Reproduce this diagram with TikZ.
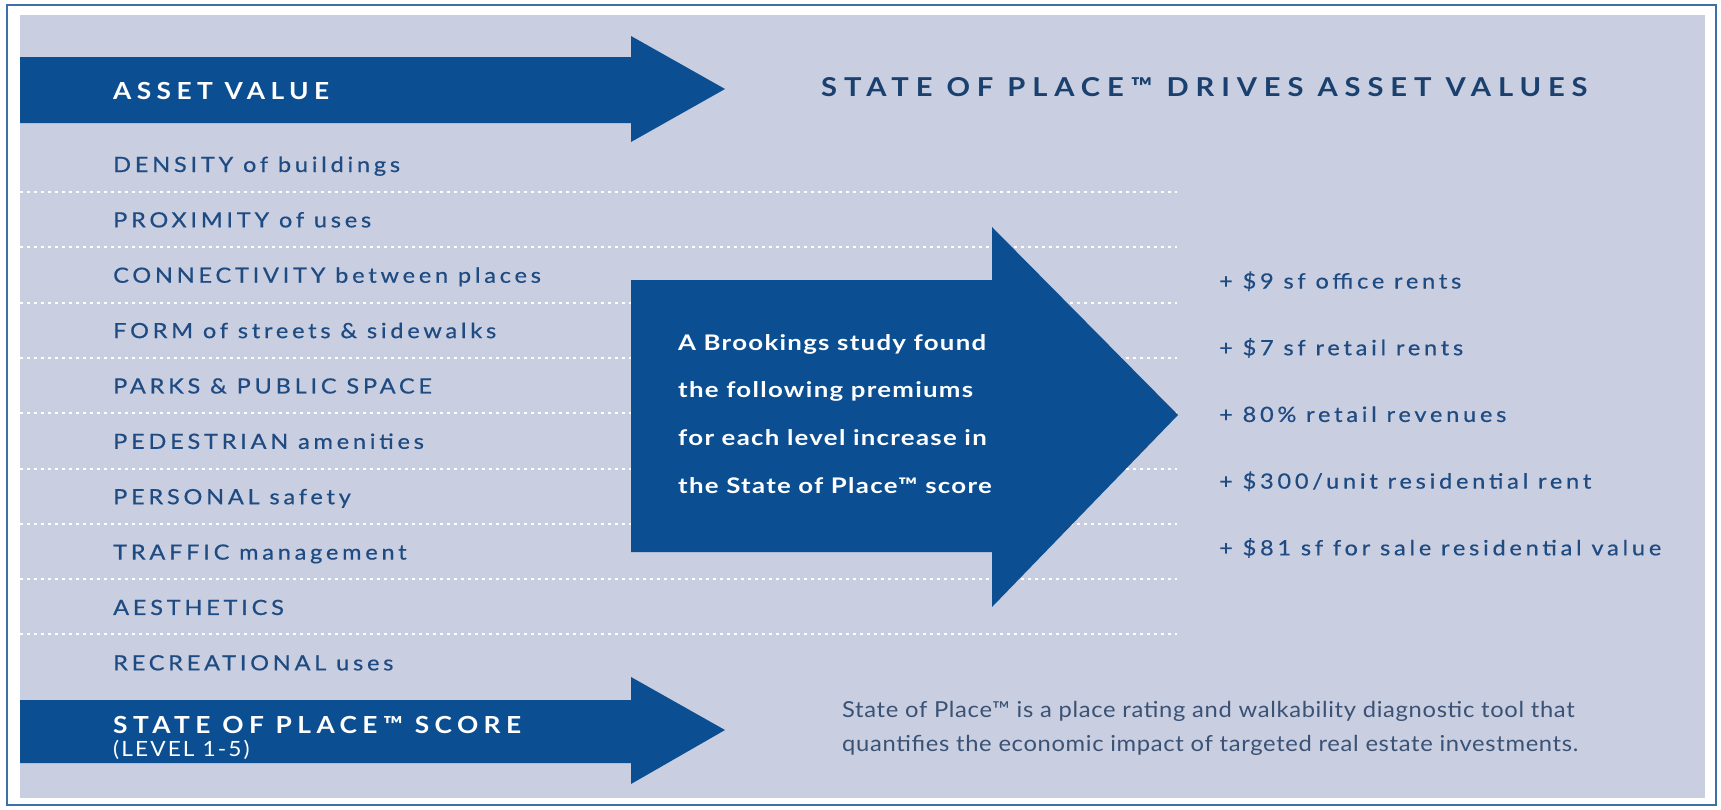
\documentclass[tikz,border=0pt]{standalone}
\usepackage{fontspec}
\setmainfont{Lato}
\newfontfamily\widefont[FakeStretch=1.12]{Lato}
\newfontfamily\widemedfont[FakeStretch=1.12,FakeBold=0.5]{Lato}
\newfontfamily\studyfont[FakeStretch=1.2]{Lato}
\newfontfamily\notefont[FakeStretch=1.08]{Lato}
\newfontfamily\levelfont[FakeStretch=1.08]{Lato}
\definecolor{placeblue}{HTML}{0B4E91}
\definecolor{panelgray}{HTML}{C9CEE0}
\definecolor{itemblue}{HTML}{1E4B82}
\definecolor{notegray}{HTML}{3A5275}
\begin{document}
\begin{tikzpicture}[x=1pt, y=-1pt,
  every node/.style={inner sep=0pt, anchor=base west},
  bandtxt/.style={text=white, font=\fontsize{23.5}{27}\widefont\bfseries\addfontfeatures{LetterSpace=23}},
  titletxt/.style={text=itemblue!85!black, font=\fontsize{26}{30}\widefont\bfseries\addfontfeatures{LetterSpace=26.5}},
  item/.style={text=itemblue, font=\fontsize{21}{24}\widemedfont\addfontfeatures{LetterSpace=18}},
  premium/.style={text=itemblue, font=\fontsize{21}{24}\widemedfont\addfontfeatures{LetterSpace=18}},
  midtxt/.style={text=white, font=\fontsize{21.5}{25}\studyfont\bfseries\addfontfeatures{LetterSpace=6}},
  notetxt/.style={text=notegray, font=\fontsize{22}{26}\notefont\addfontfeatures{LetterSpace=3}}]
  \useasboundingbox (0,0) rectangle (1721,809);
  \fill[white] (0,0) rectangle (1721,809);
  \draw[placeblue!80, line width=1.6] (7,5) rectangle (1716,805);
  \fill[panelgray] (20,15) rectangle (1705,798);
  \foreach \i in {0,...,8}
    \draw[white, line width=2, dash pattern=on 2.5 off 4.5] (20,{192+55.3*\i}) -- (1177,{192+55.3*\i});
  \fill[placeblue] (20,57) -- (631,57) -- (631,36) -- (725,89) -- (631,142) -- (631,123) -- (20,123) -- cycle;
  \fill[placeblue] (631,280) -- (992,280) -- (992,227) -- (1178,415) -- (992,607) -- (992,552) -- (631,552) -- cycle;
  \fill[placeblue] (20,700) -- (631,700) -- (631,677) -- (725,730) -- (631,784) -- (631,763) -- (20,763) -- cycle;
  \node[bandtxt] (asset) at (113,99) {ASSET VALUE};
  \node[titletxt] (title) at (821,96) {STATE OF PLACE™ DRIVES ASSET VALUES};
  \foreach \lbl [count=\i from 0] in {DENSITY of buildings, PROXIMITY of uses, CONNECTIVITY between places,
    FORM of streets \& sidewalks, PARKS \& PUBLIC SPACE, PEDESTRIAN amenities, PERSONAL safety,
    TRAFFIC management, AESTHETICS, RECREATIONAL uses}
    \node[item] (item\i) at (113,{172+55.37*\i}) {\lbl};
  \node[midtxt] (study1) at (678,350) {A Brookings study found};
  \node[midtxt] (study2) at (678,397.7) {the following premiums};
  \node[midtxt] (study3) at (678,445.3) {for each level increase in};
  \node[midtxt] (study4) at (678,493) {the State of Place™ score};
  \foreach \lbl [count=\i from 0] in {+ \$9 sf office rents, + \$7 sf retail rents, + 80\% retail revenues,
    + \$300/unit residential rent, + \$81 sf for sale residential value}
    \node[premium] (prem\i) at (1219,{288.5+66.7*\i}) {\lbl};
  \node[bandtxt] (score) at (113,733) {STATE OF PLACE™ SCORE};
  \node[text=white, font=\fontsize{21}{23}\levelfont\addfontfeatures{LetterSpace=10}] (level) at (113,756) {(LEVEL 1-5)};
  \node[notetxt] (note1) at (842,717) {State of Place™ is a place rating and walkability diagnostic tool that};
  \node[notetxt] (note2) at (842,751) {quantifies the economic impact of targeted real estate investments.};
\end{tikzpicture}
\end{document}
